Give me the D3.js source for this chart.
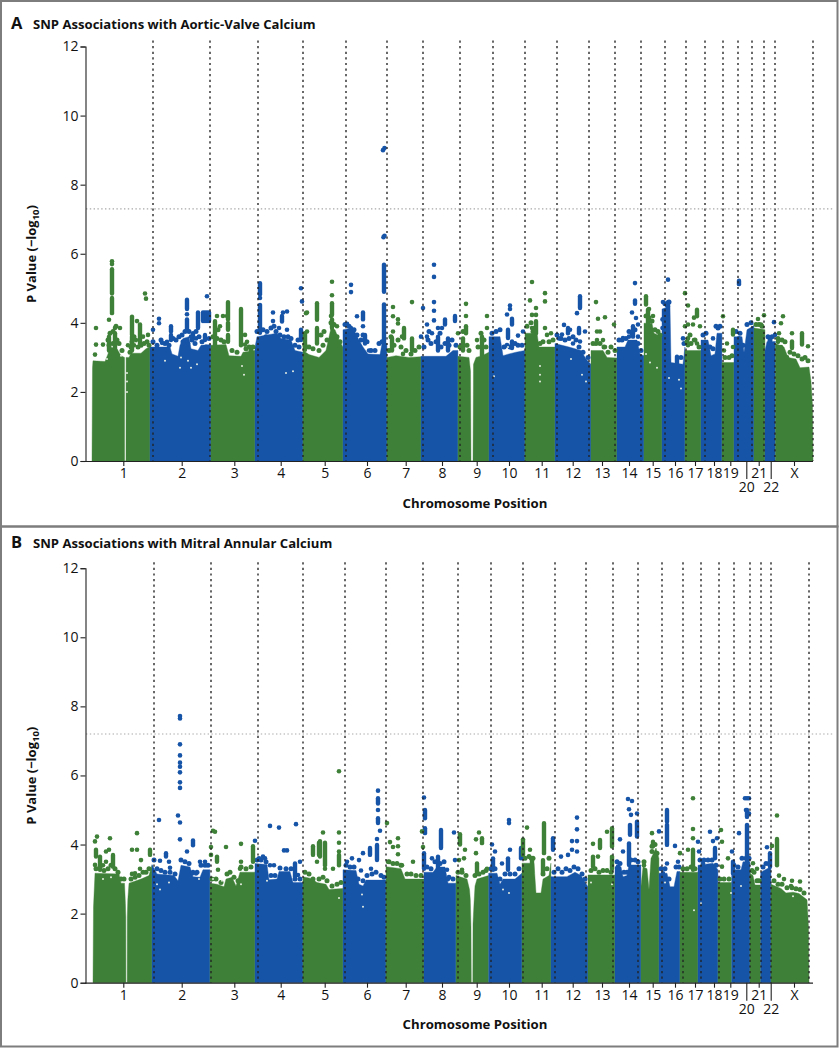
<!DOCTYPE html>
<html><head><meta charset="utf-8">
<script src="https://cdn.jsdelivr.net/npm/d3@7/dist/d3.min.js"></script>
<style>html,body{margin:0;padding:0;background:#fff}svg{display:block}text{font-family:"Open Sans",sans-serif;fill:#111}</style>
</head><body><svg id="c" width="839" height="1050"></svg>
<script>
const chromLabels=["1","2","3","4","5","6","7","8","9","10","11","12","13","14","15","16","17","18","19","20","21","22","X"];
const labelPos=[32.3,90.7,143.3,189.7,233.7,276,314.7,351,385.7,418,450.7,481.7,511,538,561.7,584,604,623,639.3,655.3,667.7,679.7,703];
const pTicks=[0,2,4,6,8,10,12];
// chromosome mass boundaries, genome-axis units
const startsA=[1,59,120,164,212,252,296,330,367,398,434,464,500,526,553,571,594,610,631,643,663,674,684.5,722];
const startsB=[2,61,119,164,212,252,295,333,365,397.7,431,460,497,524,550,568,589,607,627,640.7,659,669.7,680,718];
const linesA=[62,119,167,212,255,296,332,369,402,434,466,498,524,550,574,595,614,632,647,661,673,684,722];
const linesB=[63,120,167,212,254,295,332,367,400,432,464,495,522,547,571,592,610,628,643,659,670,680,718];
const thresholdA=7.3, thresholdB=7.2;
// top of the solid mass [position, -log10 P]
const massA=[[1,0],[1.5,2.7],[2,2.9],[14,2.88],[17,3.1],[19,3.3],[26,3.25],[30,3.05],[33.5,3.0],[33.6,0],[35,0],[35.1,3.0],[38,3.0],[40,3.12],[50,3.12],[55,3.25],[58.9,3.3],
[59,3.3],[79,3.3],[81,3.1],[87,3.03],[89,3.35],[92,3.55],[98,3.6],[100,3.25],[107,3.2],[110,3.35],[119.9,3.37],
[120,3.35],[135,3.37],[138,3.05],[150,3.03],[152,3.15],[163.9,3.2],
[164,3.3],[166,3.6],[186,3.7],[190,3.55],[200,3.5],[204,3.2],[211.9,3.15],
[212,3.2],[218,3.08],[228,3.0],[235,3.2],[240,3.85],[244,3.8],[248,3.5],[251.9,3.3],
[252,3.8],[262,3.85],[268,3.5],[272,3.3],[277,3.1],[289,3.08],[291,3.4],[295.9,3.4],
[296,3.0],[305,3.05],[318,3.0],[329.9,3.02],
[330,3.03],[355,3.03],[362,3.2],[366.9,3.2],
[367,3.03],[378,3.0],[379.5,2.6],[380,0],[382,0],[382.5,2.8],[385,3.0],[391,3.05],[397.9,3.15],
[398,3.6],[409,3.6],[412,3.05],[418,3.1],[425,3.15],[433.9,3.2],
[434,3.7],[446,3.7],[448,3.3],[463.9,3.3],
[464,3.4],[478,3.3],[490,3.2],[495,2.95],[499.9,2.8],
[500,3.2],[512,3.2],[516,3.0],[525.9,2.98],
[526,3.3],[534,3.3],[537,3.5],[546,3.5],[549,3.1],[552.9,3.05],
[553,3.99],[561,3.99],[563,3.7],[570.9,3.6],
[571,4.4],[579,4.48],[580,2.85],[592,2.8],[593.9,3.3],
[594,3.2],[609.9,3.2],
[610,3.5],[617,3.5],[620,3.05],[624,3.1],[626,3.7],[630.9,3.7],
[631,2.85],[642.9,2.85],
[643,3.6],[651,3.6],[653,3.15],[656,3.8],[662.9,3.92],
[663,3.85],[673.9,3.8],
[674,3.2],[676,3.46],[684.4,3.46],
[684.5,3.4],[693,3.3],[697,3.0],[705,2.95],[709,2.7],[718,2.72],[720,2.3],[721.5,1.6],[722,0]];
const massB=[[2,0],[2.5,2.2],[4,3.17],[28,3.15],[30,2.88],[33.5,2.88],[34.4,2.3],[34.8,1.9],[34.9,0],[36.2,0],[36.3,1.9],[36.8,2.4],[38,2.88],[50,3.0],[58,3.1],[60.9,3.4],
[61,3.42],[66,3.15],[83,3.1],[87,2.95],[90,3.4],[99,3.35],[102,3.07],[109,3.05],[112,3.27],[118.9,3.27],
[119,2.88],[126,2.85],[133,2.78],[135,3.0],[141,3.05],[145,2.8],[149,3.2],[163.9,3.2],
[164,3.45],[176,3.42],[178,2.98],[186,3.0],[188,3.22],[199,3.22],[202,2.9],[211.9,2.9],
[212,3.07],[220,3.02],[226,2.9],[235,2.85],[238,2.7],[251.9,2.73],
[252,3.27],[265,3.25],[268,2.85],[272,2.8],[275,2.97],[294.9,2.97],
[295,3.36],[310,3.3],[314,3.0],[332.9,3.0],
[333,3.2],[342,3.2],[346,3.35],[354,3.35],[357,2.88],[364.9,2.88],
[365,3.1],[376,3.0],[378.5,2.7],[379.3,2.4],[380,1.6],[380.3,0],[381.8,0],[382,1.7],[383,2.3],[384,2.8],[386,3.0],[397.6,3.1],
[397.7,3.17],[406,3.17],[409,2.85],[412,3.0],[424,3.0],[430.9,3.17],
[431,3.46],[443,3.46],[445,2.6],[450,2.6],[452,3.0],[458,3.1],[459.9,3.46],
[460,3.07],[476,3.07],[484,3.2],[490,3.1],[496.9,2.78],
[497,3.12],[523.9,3.12],
[524,3.36],[530,3.36],[532,3.07],[536,3.1],[538,3.41],[549.9,3.41],
[550,2.8],[552,3.36],[556,3.3],[558,2.7],[560,3.6],[565,3.9],[567.9,3.6],
[568,3.17],[576,3.17],[579,2.78],[583,2.78],[586,3.22],[588.9,3.22],
[589,3.2],[606.9,3.2],
[607,3.4],[622,3.46],[626.9,3.27],
[627,2.9],[640.6,2.9],
[640.7,3.27],[650,3.27],[652,3.5],[658.9,3.5],
[659,3.17],[662,3.1],[664,2.83],[669.6,2.83],
[669.7,3.2],[679.9,3.36],
[680,2.85],[690,2.73],[695,2.6],[702,2.62],[708,2.58],[716,2.4],[717.5,1.6],[718,0]];
// tight vertical runs of overlapping SNPs: [position, high, low]
const runsA=[[21,5.55,4.85],[21,4.72,4.28],[18,3.6,3.2],[24,3.7,3.2],[41,4.18,3.65],[41,3.6,3.2],[49,3.95,3.4],[96,4.67,4.4],[96,4.1,3.8],[112,4.3,4.05],[114,4.3,4.05],[116,4.3,4.05],[118,4.3,4.05],[107,4.3,3.85],[80,3.9,3.75],[80,3.65,3.5],[102,3.7,3.55],[114,3.65,3.5],
[124,4.05,3.3],[137,4.6,4.1],[137,4.0,3.8],[137,3.65,3.45],[150,4.4,3.35],[169,5.15,4.82],[169,4.52,3.71],[191,4.2,4.04],[210,3.8,3.5],[226,4.57,4.09],[226,3.85,3.4],[214,3.7,3.22],[241,4.57,4.23],[241,4.1,3.85],[260,3.85,3.6],[272,4.3,4.1],[274,3.65,3.4],[293,5.68,4.9],[293,4.53,3.4],
[313,3.85,3.55],[321,3.55,3.2],[301,3.56,3.2],[354,4.1,3.95],[364,4.2,4.05],[347,3.6,3.2],[357,3.55,3.2],[375,3.9,3.7],[372,3.55,3.2],[391,3.6,3.05],[421,4.12,3.95],[417,3.8,3.56],[421,3.46,3.27],[445,4.05,3.7],
[489,4.77,4.43],[488,3.85,3.7],[477,3.85,3.7],[544,4.65,4.55],[542,3.9,3.6],[555,4.77,4.53],[557,4.38,4.14],[557,4.1,3.9],[577,4.6,4.48],[586,3.02,2.79],[606,4.38,4.19],[642,3.8,3.66],[648,5.22,5.12],[701,3.46,3.27],[711,3.7,3.37]];
const runsB=[[5,3.85,3.65],[22,3.7,3.36],[9,3.65,3.27],[59,3.85,3.7],[75,3.75,3.65],[102,4.12,3.98],[126,3.65,3.5],[162,3.95,3.5],[204,3.45,3.07],[229,4.1,3.65],[228,4.05,3.7],[234,4.05,3.4],[222,3.95,3.7],[248,3.7,3.4],
[287,5.34,5.19],[287,4.76,4.62],[286,3.99,3.55],[279,3.9,3.7],[334,5.0,4.76],[334,4.47,4.33],[333,3.75,3.3],[350,4.42,3.9],[347,3.65,3.27],[369,4.3,4.0],[391,4.18,4.04],[386,3.45,3.17],[402,3.6,3.27],[430,3.9,3.6],[417,3.6,3.27],[432,4.15,3.7],[453,4.62,3.75],[462,4.18,3.85],[441,3.55,3.2],[452,3.55,3.2],
[521,4.47,3.94],[509,4.13,3.9],[502,3.65,3.36],[521,3.65,3.3],[539,4.57,4.28],[546,4.66,4.23],[538,4.03,3.41],[562,4.08,3.95],[576,5.0,4.66],[576,4.57,3.99],[602,3.85,3.27],[624,3.9,3.6],[642,3.5,3.17],[656,5.0,4.8],[656,4.57,3.4],[679,3.75,3.36],[686,4.16,3.4]];
// isolated SNPs: [position, -log10 P]
const pointsA=[[5,3.85],[5,3.37],[12,3.37],[4,3.08],[18,4.09],[21,5.78],[21,5.7],[24,3.85],[29,3.85],[46,4.05],[54,4.85],[55,4.7],[57,3.65],[52,3.6],[37,3.35],[43,3.35],[45,3.5],
[62,3.8],[68,4.12],[68,3.99],[96,4.25],[116,4.77],[97,3.4],[105,3.55],[100,3.6],[71,3.42],[76,3.45],
[126,4.2],[132,4.2],[136,4.2],[129,3.9],[154,3.65],[154,3.37],[160,3.3],[156,3.45],
[169,4.72],[182,4.3],[182,4.05],[196,4.33],[192,4.3],[188,3.85],[196,3.8],[210,5.0],[211,4.62],
[215,4.28],[216,4.3],[216,3.75],[241,5.19],[241,4.8],[246,3.9],[240,4.2],
[260,5.1],[260,4.89],[256,3.97],[266,4.19],[272,3.9],[278,3.2],[302,4.46],[302,4.19],[307,4.1],[307,3.98],[302,3.75],[321,4.6],[332,4.43],[311,3.6],[330,3.6],[312,3.1],
[293.5,9.06],[292,9.0],[293.5,6.52],[292.5,6.48],
[343,5.68],[343,5.33],[343,4.6],[343,4.35],[343,4.07],[336,3.95],[347,3.85],[351,3.85],[336,3.6],[341,3.7],[367,3.7],[375,4.55],[375,4.2],[391,3.55],[386,3.5],[396,4.2],[396,3.85],
[419,4.5],[419,4.4],[416,4.24],[427,3.63],[432,3.75],[441,5.18],[439,4.65],[454,4.86],[454,4.62],[445,4.43],[441,4.23],[445,4.23],[441,3.85],[454,3.85],[460,3.7],[456,3.65],
[473,3.94],[468,3.55],[479,3.8],[471,3.66],[486,4.28],[494,3.75],[482,3.4],[489,3.46],[507,4.12],[514,4.16],[505,4.6],[506,3.75],[509,3.75],[512,3.5],[506,3.5],[523,3.95],[514,3.3],
[544,5.15],[541,4.3],[545,4.14],[547,3.95],[532,3.56],[547,3.6],[538,3.6],[572,4.6],[571.5,4.1],[571.5,3.85],[558,4.4],[562,4.2],
[577,5.25],[576,4.5],[576,4.28],[594,4.86],[594,3.9],[592,3.55],[597,4.5],[603,4.15],[597,3.95],[602,3.95],[609,3.9],[603,3.5],[597,3.55],[597,3.35],[606,3.4],[632,4.19],[622,3.55],[636,3.4],[642,3.3],[633,3.2],[648,3.55],
[667,4.11],[673,4.22],[670,3.95],[683,4.02],[684,3.65],[692,4.19],[690,3.99],[688,3.7],[701,3.7],[717,3.32],[696,3.0],[687,3.45],[690,3.3]];
const pointsB=[[6,4.23],[4,4.09],[19,4.18],[4,3.41],[15,3.8],[18,3.85],[15,3.5],[12,3.4],[46,4.33],[41,3.85],[46,3.85],[50,3.55],[44,3.17],[49,3.3],[41,3.15],
[68,4.71],[89,7.72],[89,7.65],[89,6.9],[89,6.58],[89,6.37],[89,6.25],[89,6.09],[89,5.8],[89,5.64],[87,4.84],[89,4.64],[89,4.15],[96,3.8],[69,3.53],[78,3.5],[79,3.33],[109,3.5],[114,3.5],[101,3.16],[105,3.16],
[122,4.4],[124,4.37],[120,3.93],[135,3.93],[150,4.02],[164,4.11],[120,3.7],[127,3.27],[150,3.5],[149,3.3],
[179,4.54],[188,4.49],[205,4.59],[196,3.83],[193,3.83],[172,3.65],[168,3.6],[179,3.4],[209,3.5],[207,3.12],[174,3.6],[183,3.4],
[232,4.35],[248,4.35],[248,4.05],[248,6.12],[248,3.8],[226,3.5],[234,3.3],[242,3.3],
[287,5.56],[287,5.0],[289,4.4],[286,4.16],[272,3.75],[261,3.6],[256,3.5],[268,3.55],[280,3.3],[270,3.25],
[296,4.62],[307,4.18],[299,4.07],[302,3.93],[307,3.95],[307,3.72],[297,3.5],[331,4.38],[332,3.93],[322,3.5],[311,3.4],
[333,5.36],[363,4.35],[364,3.55],[356,3.27],[357,3.0],[341,3.6],[388,4.35],[385,4.15],[374,3.85],[373,3.6],[368,3.55],[371,3.27],[385,3.75],[396,3.3],
[401,4.0],[418,4.71],[418,4.62],[419,3.85],[404,3.8],[411,3.45],[436,4.49],[439,3.85],[440,3.6],
[486,4.78],[486,4.44],[486,4.1],[481,4.1],[481,3.85],[486,3.8],[470,3.65],[477,3.7],
[516,4.37],[502,4.02],[507,3.65],[537,5.32],[541,5.26],[538,5.02],[540,4.86],[546,4.9],[529,4.15],[532,3.8],[527,3.36],
[561,4.33],[568,4.38],[553,3.4],[584,3.96],[576,3.45],[572,3.17],[589,3.75],[587,3.5],[602,5.34],[602,4.45],[602,4.18],[607,4.08],[597,3.85],[608,3.8],
[619,4.37],[626,4.18],[622,4.1],[612,3.45],[630,4.42],[641,3.8],[637,3.6],[631,4.08],[631,3.36],[656,5.34],[654,5.34],[658,5.34],[648,4.33],[655,5.0],[658,4.9],
[662,3.46],[666,3.3],[676,3.92],[681,3.96],[686,4.84],[688,3.1],[693,3.0],[701,2.95],[709,2.93],[700,2.8]];
// SNPs crowding the ragged top edge of the mass
const edgeA=[[17,3.5],[19,3.7],[22,3.75],[25,3.9],[18,3.35],[22,3.4],[26,3.5],[28,3.4],[31,3.2],[40,3.3],[43,3.6],[41,3.45],[47,3.3],[50,3.35],[53,3.4],[56,3.45],[58,3.35],[39,3.15],
[62,3.45],[66,3.35],[70,3.5],[74,3.4],[78,3.35],[82,3.55],[85,3.5],[88,3.6],[91,3.65],[94,3.75],[98,3.75],[101,3.5],[104,3.4],[108,3.6],[111,3.45],[115,3.3],[118,3.55],[105,3.75],[92,3.45],
[122,3.6],[126,3.55],[130,3.5],[133,3.45],[127,3.8],[141,3.2],[146,3.15],[155,3.25],[158,3.3],[162,3.3],[160,3.2],
[166,3.75],[172,3.8],[176,3.75],[180,3.85],[185,3.75],[189,3.65],[193,3.6],[197,3.6],[200,3.55],[204,3.35],[208,3.3],[207,3.5],[175,3.6],[183,3.9],
[214,3.35],[218,3.3],[222,3.25],[228,3.2],[232,3.35],[236,3.5],[240,4.0],[243,3.95],[246,3.6],[249,3.45],[230,3.65],[233,3.75],
[254,3.95],[258,3.9],[263,3.8],[266,3.65],[270,3.5],[272,3.65],[276,3.45],[280,3.2],[284,3.2],[288,3.4],[291,3.45],
[298,3.2],[303,3.35],[307,3.5],[310,3.3],[315,3.2],[320,3.1],[324,3.2],[328,3.3],[300,3.6],
[333,3.3],[337,3.5],[340,3.4],[345,3.45],[350,3.3],[354,3.4],[358,3.35],[361,3.5],[365,3.35],[338,3.75],[349,3.7],
[369,3.3],[372,3.75],[376,3.35],[378,3.2],[387,3.3],[390,3.7],[393,3.5],[395,3.3],
[401,3.7],[405,3.75],[409,3.8],[413,3.3],[416,3.35],[419,3.3],[424,3.4],[427,3.35],[431,3.35],
[436,3.9],[440,4.0],[444,3.85],[449,3.4],[452,3.45],[458,3.45],[462,3.5],[442,3.75],
[466,3.65],[470,3.55],[474,3.5],[478,3.55],[482,3.6],[485,3.5],[488,3.3],[492,3.15],[497,3.0],
[502,3.4],[505,3.4],[509,3.4],[513,3.3],[517,3.15],[520,3.3],[524,3.2],
[528,3.5],[531,3.5],[535,3.55],[538,3.75],[541,3.7],[544,3.8],[547,3.4],[550,3.2],
[555,4.2],[558,4.15],[561,4.05],[564,3.8],[567,3.75],[569,3.65],[574,4.55],[578,4.6],[590,3.0],[593,3.4],
[596,3.45],[600,3.4],[604,3.5],[608,3.3],[599,3.65],[612,3.65],[615,3.7],[619,3.3],[622,3.25],[627,3.85],[629,3.9],[625,3.9],
[634,3.0],[638,3.0],[641,3.05],[645,3.75],[649,3.7],[652,3.35],[656,3.95],[660,4.0],[665,3.95],[668,3.95],[671,3.9],[677,3.6],[681,3.6],[679,3.5],
[687,3.55],[691,3.5],[694,3.45],[699,3.15],[703,3.1],[707,3.05],[711,2.95],[714,3.0],[717,2.9]];
const edgeB=[[5,3.3],[9,3.35],[13,3.25],[17,3.3],[20,3.4],[24,3.3],[27,3.2],[30,3.0],[33,3.0],[40,3.0],[44,3.05],[48,3.1],[52,3.2],[55,3.2],[58,3.3],
[63,3.55],[66,3.3],[70,3.25],[74,3.2],[79,3.2],[84,3.15],[90,3.55],[94,3.5],[98,3.45],[102,3.2],[106,3.2],[110,3.4],[114,3.4],[117,3.4],
[121,3.0],[125,3.0],[130,2.9],[136,3.15],[139,3.2],[143,3.05],[147,2.95],[150,3.35],[155,3.3],[160,3.35],
[166,3.55],[170,3.55],[175,3.5],[180,3.1],[184,3.1],[189,3.32],[195,3.3],[200,3.3],[204,3.0],[209,3.0],
[214,3.2],[218,3.15],[222,3.0],[228,3.0],[232,3.05],[236,2.95],[241,2.8],[246,2.85],[250,2.9],
[255,3.4],[259,3.35],[263,3.35],[267,3.0],[272,2.95],[276,3.1],[281,3.15],[285,3.2],[290,3.1],[293,3.05],
[298,3.5],[302,3.45],[306,3.45],[310,3.4],[316,3.15],[320,3.15],[325,3.1],[330,3.1],
[336,3.35],[340,3.3],[344,3.5],[349,3.45],[353,3.5],[358,3.05],[362,3.0],
[367,3.2],[371,3.2],[375,3.1],[384,3.1],[388,3.15],[392,3.2],[395,3.25],
[400,3.3],[404,3.3],[409,3.0],[414,3.15],[419,3.15],[424,3.15],[428,3.3],
[434,3.6],[438,3.65],[442,3.6],[452,3.15],[456,3.3],[458,3.6],
[463,3.2],[467,3.3],[471,3.2],[475,3.3],[479,3.25],[483,3.35],[487,3.3],[491,3.15],[494,3.0],
[500,3.25],[504,3.3],[508,3.2],[512,3.25],[516,3.25],[520,3.2],
[526,3.5],[529,3.45],[533,3.2],[536,3.2],[540,3.55],[544,3.55],[547,3.5],
[553,3.5],[561,3.8],[564,4.0],[566,3.75],[561,3.95],[570,3.3],[574,3.3],[578,3.0],[585,3.35],[588,3.35],
[592,3.3],[596,3.3],[600,3.35],[604,3.3],[609,3.55],[613,3.55],[617,3.55],[621,3.55],[625,3.4],
[629,3.0],[633,3.0],[638,3.0],[643,3.4],[647,3.35],[651,3.6],[655,3.6],[658,3.6],
[661,3.25],[663,3.2],[666,2.95],[668,2.95],[672,3.35],[675,3.45],[678,3.45],
[683,2.95],[687,2.85],[691,2.85],[696,2.75],[701,2.75],[705,2.72],[709,2.7],[713,2.6]];
// gaps of white seen inside the solid mass
const specksA=[[16,2.95],[30,3.05],[36,2.55],[36,2.3],[36,2.0],[74,2.9],[89,2.7],[90,3.0],[97,2.9],[100,2.7],[106,2.8],[151,2.75],[153,2.5],[195,2.55],[202,2.6],[417,3.3],[403,2.45],[449,2.75],[449,2.5],[449,2.3],[480,2.95],[491,2.5],[495,2.3],[555,3.1],[559,2.85],[566,2.7],[578,2.4],[588,2.35],[590,2.1]];
const specksB=[[12,3.0],[20,3.05],[66,2.85],[69,2.7],[78,2.9],[108,3.0],[122,3.0],[131,2.95],[150,2.85],[176,2.95],[248,2.45],[271,2.55],[272,2.2],[412,2.7],[418,2.6],[500,2.9],[521,2.85],[603,2.1],[610,2.3],[574,2.9],[650,2.8],[640,2.6],[702,2.5]];

const x=d3.scaleLinear().domain([0,722]).range([91,813]);
const colours={green:"#3e8037",blue:"#1654a8"};
const svg=d3.select("#c");
function frame(y0,h){svg.append("rect").attr("x",1).attr("y",y0).attr("width",836.5).attr("height",h).attr("fill","none").attr("stroke","#7d7d7d").attr("stroke-width",2);}
frame(1,525.5);frame(526.5,520);
function panel(opt){
 const y=d3.scaleLinear().domain([0,12]).range([opt.base,opt.base-414.5]);
 const g=svg.append("g");
 const colourAt=u=>{let i=d3.bisectRight(opt.starts,u)-1;i=Math.max(0,Math.min(22,i));return i%2?colours.blue:colours.green;};
 g.append("text").attr("x",11).attr("y",opt.titleY).attr("font-size",16.5).attr("font-weight",700).text(opt.letter);
 g.append("text").attr("x",33).attr("y",opt.titleY).attr("font-size",13.1).attr("font-weight",700).text(opt.title);
 const area=d3.area().x(d=>x(d[0])).y0(y(0)).y1(d=>y(d[1]));
 opt.starts.slice(0,-1).forEach((s,i)=>{
   const e=opt.starts[i+1];
   const seg=opt.mass.filter(d=>d[0]>=s&&d[0]<e+(i==22?1:0));
   g.append("path").attr("d",area(seg)).attr("fill",i%2?colours.blue:colours.green).attr("stroke",i%2?colours.blue:colours.green).attr("stroke-width",.4);
 });
 g.selectAll(null).data(opt.edge).join("circle").attr("cx",d=>x(d[0])).attr("cy",d=>y(d[1])).attr("r",2.5).attr("fill",d=>colourAt(d[0]));
 g.selectAll(null).data(opt.specks).join("circle").attr("cx",d=>x(d[0])).attr("cy",d=>y(d[1])).attr("r",1).attr("fill","#e4ece1");
 g.selectAll(null).data(opt.runs).join("line").attr("x1",d=>x(d[0])).attr("x2",d=>x(d[0])).attr("y1",d=>y(d[1])).attr("y2",d=>y(d[2])).attr("stroke",d=>colourAt(d[0])).attr("stroke-width",4.4).attr("stroke-linecap","round");
 g.selectAll(null).data(opt.points).join("circle").attr("cx",d=>x(d[0])).attr("cy",d=>y(d[1])).attr("r",2.3).attr("fill",d=>colourAt(d[0]));
 g.selectAll(null).data(opt.lines).join("line").attr("x1",d=>x(d)).attr("x2",d=>x(d)).attr("y1",y(12)-6).attr("y2",y(0)).attr("stroke","#222").attr("stroke-opacity",.8).attr("stroke-width",1.7).attr("stroke-dasharray","2.2 3.4");
 g.append("line").attr("x1",86).attr("x2",833).attr("y1",y(opt.thr)).attr("y2",y(opt.thr)).attr("stroke","#a8a8a8").attr("stroke-width",1.1).attr("stroke-dasharray","1.4 2.4");
 const ya=d3.axisLeft(y).tickValues(pTicks).tickSize(5).tickPadding(2);
 const yg=g.append("g").attr("transform","translate(85.5,0)").call(ya);
 yg.selectAll("path,line").attr("stroke","#222").attr("stroke-width",1.1);
 yg.selectAll("text").attr("font-size",14).attr("fill","#111");
 const xa=d3.axisBottom(x).tickValues(labelPos).tickSizeOuter(0).tickFormat((d,i)=>chromLabels[i]).tickSize(5).tickPadding(2);
 const xg=g.append("g").attr("transform",`translate(0,${opt.base})`).call(xa);
 xg.select("path").attr("d",`M${x(-6)},0.5H${x(722)}`).attr("stroke","#222").attr("stroke-width",1.2);
 xg.selectAll("line").attr("stroke","#222").attr("stroke-width",1.1);
 xg.selectAll("text").attr("font-size",14).attr("fill","#111");
 xg.selectAll(".tick").filter((d,i)=>chromLabels[i]=="20"||chromLabels[i]=="22").each(function(){
   d3.select(this).select("line").attr("y2",18);
   d3.select(this).select("text").attr("y",21);
 });
 g.append("text").attr("transform",`translate(36,${opt.base-207}) rotate(-90)`).attr("text-anchor","middle").attr("font-size",13).attr("font-weight",700)
  .html('P Value (\u2212log<tspan font-size="9.5" dy="3">10</tspan><tspan dy="-3">)</tspan>');
 g.append("text").attr("x",475).attr("y",opt.base+46.5).attr("text-anchor","middle").attr("font-size",13.2).attr("font-weight",700).text("Chromosome Position");
}
panel({letter:"A",title:"SNP Associations with Aortic-Valve Calcium",titleY:29,base:461,thr:thresholdA,starts:startsA,lines:linesA,mass:massA,runs:runsA,points:pointsA,edge:edgeA,specks:specksA});
panel({letter:"B",title:"SNP Associations with Mitral Annular Calcium",titleY:548,base:982.7,thr:thresholdB,starts:startsB,lines:linesB,mass:massB,runs:runsB,points:pointsB,edge:edgeB,specks:specksB});
</script></body></html>
